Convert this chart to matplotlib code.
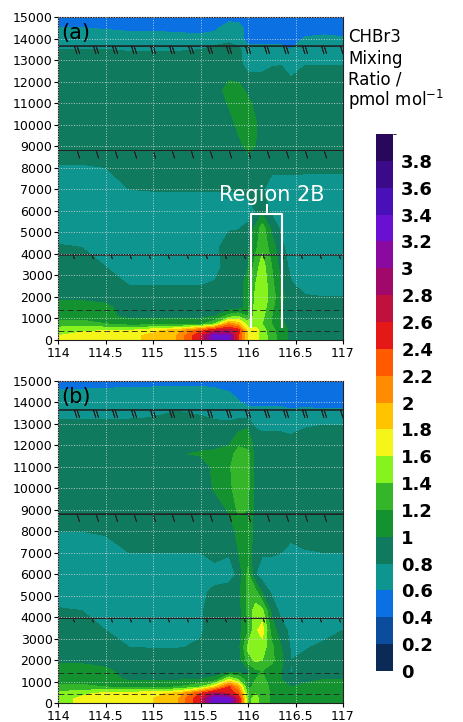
import matplotlib.pyplot as plt
import numpy as np
from matplotlib.colors import ListedColormap, BoundaryNorm

# grid nodes (longitude, height in m)
lon = [114.0, 114.25, 114.5, 114.75, 115.0, 115.25, 115.5, 115.65, 115.8, 115.9,
       116.0, 116.08, 116.15, 116.25, 116.35, 116.45, 116.6, 116.8, 117.0]
height = [0, 200, 450, 750, 1100, 1500, 2000, 2600, 3400, 4300, 5200, 6000, 7000,
          8000, 9000, 10000, 11000, 11600, 12200, 12800, 13400, 14000, 14500, 15000]

# CHBr3 mixing ratio, panel (a), one row per height
chbr3_a = [
    [1.6, 1.7, 1.75, 1.75, 1.85, 2.0, 2.6, 3.3, 3.2, 2.4, 1.75, 1.7, 1.5, 1.3, 1.1, 0.95, 0.9, 0.9, 0.9],
    [1.6, 1.7, 1.75, 1.75, 1.85, 2.0, 2.6, 3.3, 3.2, 2.4, 1.75, 1.7, 1.5, 1.3, 1.1, 0.95, 0.9, 0.9, 0.9],
    [1.5, 1.55, 1.6, 1.6, 1.75, 1.9, 2.3, 2.6, 2.7, 2.5, 1.7, 1.7, 1.5, 1.25, 1.1, 0.95, 0.9, 0.9, 0.9],
    [1.3, 1.3, 1.2, 1.1, 1.1, 1.1, 1.15, 1.4, 2.1, 1.9, 1.5, 1.5, 1.4, 1.2, 1.05, 0.9, 0.9, 0.9, 0.9],
    [1.1, 1.1, 1.05, 0.95, 0.95, 0.95, 0.95, 1.0, 1.3, 1.4, 1.2, 1.5, 1.45, 1.2, 1.0, 0.9, 0.9, 0.9, 0.9],
    [1.1, 1.1, 1.05, 0.9, 0.9, 0.9, 0.9, 0.9, 0.9, 0.9, 1.1, 1.5, 1.5, 1.25, 1.0, 0.9, 0.9, 0.9, 0.9],
    [0.95, 0.95, 0.93, 0.88, 0.88, 0.88, 0.88, 0.88, 0.88, 0.9, 1.1, 1.45, 1.55, 1.3, 1.05, 0.88, 0.82, 0.8, 0.8],
    [0.9, 0.9, 0.9, 0.79, 0.79, 0.79, 0.79, 0.82, 0.88, 0.9, 1.1, 1.4, 1.55, 1.25, 1.0, 0.82, 0.72, 0.72, 0.72],
    [0.9, 0.85, 0.8, 0.72, 0.7, 0.7, 0.7, 0.72, 0.9, 0.9, 1.0, 1.3, 1.5, 1.2, 0.92, 0.75, 0.7, 0.7, 0.7],
    [0.82, 0.8, 0.7, 0.7, 0.7, 0.7, 0.7, 0.75, 0.9, 0.9, 0.95, 1.15, 1.35, 1.1, 0.85, 0.7, 0.7, 0.7, 0.7],
    [0.7, 0.7, 0.7, 0.7, 0.7, 0.7, 0.7, 0.7, 0.78, 0.79, 0.85, 1.05, 1.3, 0.95, 0.75, 0.7, 0.7, 0.7, 0.7],
    [0.7, 0.7, 0.7, 0.7, 0.7, 0.7, 0.7, 0.7, 0.7, 0.7, 0.7, 0.8, 0.92, 0.75, 0.7, 0.7, 0.7, 0.7, 0.7],
    [0.7, 0.7, 0.72, 0.8, 0.81, 0.81, 0.81, 0.81, 0.81, 0.82, 0.88, 0.85, 0.82, 0.7, 0.7, 0.7, 0.7, 0.7, 0.7],
    [0.78, 0.78, 0.8, 0.88, 0.9, 0.9, 0.9, 0.9, 0.9, 0.9, 0.9, 0.9, 0.9, 0.85, 0.85, 0.85, 0.84, 0.84, 0.84],
    [0.9, 0.9, 0.9, 0.9, 0.9, 0.9, 0.9, 0.9, 0.9, 0.95, 1.05, 1.0, 0.9, 0.9, 0.9, 0.9, 0.9, 0.9, 0.9],
    [0.9, 0.9, 0.9, 0.9, 0.9, 0.9, 0.9, 0.9, 0.92, 1.05, 1.1, 1.02, 0.9, 0.9, 0.9, 0.9, 0.9, 0.9, 0.9],
    [0.9, 0.9, 0.9, 0.9, 0.9, 0.9, 0.9, 0.9, 1.02, 1.1, 1.05, 0.95, 0.9, 0.9, 0.9, 0.9, 0.9, 0.9, 0.9],
    [0.9, 0.9, 0.9, 0.9, 0.9, 0.9, 0.9, 0.9, 1.08, 1.08, 0.95, 0.9, 0.9, 0.9, 0.9, 0.9, 0.9, 0.9, 0.9],
    [0.9, 0.9, 0.9, 0.9, 0.9, 0.9, 0.9, 0.9, 0.97, 0.95, 0.85, 0.85, 0.85, 0.88, 0.9, 0.8, 0.9, 0.9, 0.9],
    [0.9, 0.9, 0.9, 0.9, 0.9, 0.9, 0.9, 0.9, 0.9, 0.85, 0.72, 0.7, 0.72, 0.78, 0.79, 0.7, 0.79, 0.79, 0.79],
    [0.82, 0.82, 0.82, 0.8, 0.8, 0.8, 0.82, 0.88, 0.9, 0.85, 0.7, 0.7, 0.7, 0.7, 0.7, 0.62, 0.7, 0.7, 0.7],
    [0.7, 0.7, 0.7, 0.7, 0.7, 0.7, 0.68, 0.7, 0.75, 0.72, 0.5, 0.5, 0.5, 0.5, 0.5, 0.5, 0.62, 0.65, 0.62],
    [0.6, 0.6, 0.58, 0.55, 0.55, 0.52, 0.5, 0.55, 0.72, 0.7, 0.5, 0.5, 0.5, 0.5, 0.5, 0.5, 0.5, 0.5, 0.5],
    [0.5, 0.5, 0.5, 0.5, 0.5, 0.5, 0.5, 0.5, 0.5, 0.5, 0.5, 0.5, 0.5, 0.5, 0.5, 0.5, 0.5, 0.5, 0.5],
]

# panel (b)
chbr3_b = [
    [1.5, 1.65, 1.72, 1.75, 1.8, 1.95, 2.6, 3.4, 3.3, 2.6, 1.35, 1.45, 1.35, 1.15, 1.05, 1.0, 1.05, 1.1, 1.1],
    [1.5, 1.65, 1.72, 1.75, 1.8, 1.95, 2.6, 3.4, 3.3, 2.6, 1.35, 1.45, 1.35, 1.15, 1.05, 1.0, 1.05, 1.1, 1.1],
    [1.45, 1.55, 1.65, 1.7, 1.75, 1.85, 2.4, 2.8, 2.6, 2.3, 1.3, 1.4, 1.35, 1.15, 1.05, 1.0, 1.05, 1.1, 1.1],
    [1.25, 1.25, 1.2, 1.15, 1.15, 1.2, 1.4, 1.8, 2.4, 2.0, 1.15, 1.25, 1.3, 1.15, 1.05, 1.0, 1.05, 1.05, 1.05],
    [1.1, 1.1, 1.05, 0.98, 0.98, 0.98, 1.0, 1.05, 1.6, 1.4, 1.05, 1.2, 1.25, 1.1, 1.0, 0.85, 0.95, 1.0, 1.0],
    [1.1, 1.1, 1.05, 0.9, 0.9, 0.9, 0.9, 0.9, 0.9, 0.9, 0.95, 1.15, 1.2, 1.1, 1.0, 0.78, 0.9, 0.95, 0.95],
    [0.95, 0.95, 0.9, 0.9, 0.9, 0.9, 0.9, 0.9, 0.9, 0.9, 1.3, 1.45, 1.4, 1.25, 1.05, 0.8, 0.85, 0.9, 0.9],
    [0.9, 0.9, 0.85, 0.8, 0.79, 0.79, 0.82, 0.88, 0.9, 0.92, 1.45, 1.5, 1.5, 1.25, 1.0, 0.78, 0.78, 0.85, 0.88],
    [0.9, 0.88, 0.8, 0.72, 0.7, 0.7, 0.78, 0.88, 0.9, 0.92, 1.2, 1.55, 1.7, 1.1, 0.88, 0.75, 0.72, 0.72, 0.8],
    [0.82, 0.8, 0.72, 0.7, 0.7, 0.7, 0.78, 0.88, 0.9, 0.9, 1.25, 1.5, 1.45, 0.95, 0.72, 0.7, 0.7, 0.7, 0.7],
    [0.7, 0.7, 0.7, 0.7, 0.7, 0.7, 0.75, 0.85, 0.9, 0.95, 1.25, 1.25, 0.95, 0.75, 0.7, 0.7, 0.7, 0.7, 0.7],
    [0.7, 0.7, 0.7, 0.7, 0.7, 0.7, 0.7, 0.7, 0.7, 0.85, 1.25, 0.8, 0.7, 0.7, 0.7, 0.7, 0.7, 0.7, 0.7],
    [0.7, 0.7, 0.72, 0.8, 0.8, 0.8, 0.8, 0.88, 0.82, 1.0, 1.1, 0.88, 0.82, 0.82, 0.8, 0.72, 0.78, 0.8, 0.8],
    [0.8, 0.8, 0.82, 0.9, 0.9, 0.9, 0.9, 0.9, 0.92, 1.05, 1.15, 0.9, 0.9, 0.9, 0.9, 0.88, 0.9, 0.9, 0.9],
    [0.9, 0.9, 0.9, 0.9, 0.9, 0.9, 0.9, 0.9, 1.02, 1.25, 1.2, 0.9, 0.9, 0.9, 0.9, 0.9, 0.9, 0.9, 0.9],
    [0.9, 0.9, 0.9, 0.9, 0.9, 0.9, 0.9, 1.02, 1.15, 1.3, 1.25, 0.9, 0.9, 0.9, 0.9, 0.9, 0.9, 0.9, 0.9],
    [0.9, 0.9, 0.9, 0.9, 0.9, 0.9, 0.9, 1.05, 1.18, 1.3, 1.25, 0.9, 0.9, 0.9, 0.9, 0.9, 0.9, 0.9, 0.9],
    [0.9, 0.9, 0.9, 0.9, 0.9, 0.98, 1.02, 1.05, 1.1, 1.3, 1.25, 0.9, 0.9, 0.9, 0.9, 0.9, 0.9, 0.9, 0.9],
    [0.9, 0.9, 0.9, 0.9, 0.9, 0.95, 0.93, 0.9, 0.95, 1.12, 1.1, 0.9, 0.9, 0.9, 0.9, 0.9, 0.9, 0.9, 0.9],
    [0.9, 0.9, 0.9, 0.9, 0.9, 0.9, 0.9, 0.9, 0.9, 0.95, 1.0, 0.8, 0.76, 0.76, 0.76, 0.7, 0.8, 0.85, 0.85],
    [0.75, 0.75, 0.75, 0.76, 0.78, 0.85, 0.8, 0.75, 0.72, 0.75, 0.74, 0.7, 0.7, 0.7, 0.7, 0.7, 0.68, 0.65, 0.65],
    [0.7, 0.7, 0.7, 0.7, 0.7, 0.7, 0.7, 0.7, 0.7, 0.62, 0.55, 0.55, 0.55, 0.55, 0.55, 0.5, 0.55, 0.55, 0.55],
    [0.62, 0.63, 0.65, 0.66, 0.68, 0.7, 0.7, 0.66, 0.6, 0.55, 0.5, 0.5, 0.5, 0.5, 0.5, 0.5, 0.5, 0.5, 0.5],
    [0.5, 0.5, 0.5, 0.5, 0.5, 0.5, 0.5, 0.5, 0.5, 0.5, 0.5, 0.5, 0.5, 0.5, 0.5, 0.5, 0.5, 0.5, 0.5],
]

# colour scale
levels = [0, 0.2, 0.4, 0.6, 0.8, 1.0, 1.2, 1.4, 1.6, 1.8, 2.0,
          2.2, 2.4, 2.6, 2.8, 3.0, 3.2, 3.4, 3.6, 3.8, 4.0]
cbar_labels = ['0', '0.2', '0.4', '0.6', '0.8', '1', '1.2', '1.4', '1.6', '1.8',
               '2', '2.2', '2.4', '2.6', '2.8', '3', '3.2', '3.4', '3.6', '3.8']
colors = ['#0b2a55', '#0c4c9c', '#0b70e2', '#0f958f', '#0f7a5e', '#149230',
          '#35b52a', '#86f21e', '#f5f51a', '#ffc300', '#ff8c00', '#ff5a00',
          '#e51818', '#c0103e', '#a0086a', '#8a0aa0', '#6a10d0', '#4a10b8',
          '#3a0a88', '#28085a']

# wind barbs (easterly component, knots)
barb_lon = [114.0, 114.2, 114.4, 114.6, 114.8, 115.0, 115.2, 115.4,
            115.6, 115.8, 116.0, 116.2, 116.4, 116.6, 116.8]
barb_hgt = [3950, 8800, 13650]
barb_spd = [[5] * 15, [10] * 15, [20] * 15]
calm_hgt = [400, 1400]

xticks = [114, 114.5, 115, 115.5, 116, 116.5, 117]
xlabels = ['114', '114.5', '115', '115.5', '116', '116.5', '117']
yticks = [0, 1000, 2000, 3000, 4000, 5000, 6000, 7000, 8000, 9000,
          10000, 11000, 12000, 13000, 14000, 15000]

cmap = ListedColormap(colors)
norm = BoundaryNorm(levels, cmap.N)
X, Y = np.meshgrid(lon, height)

fig = plt.figure(figsize=(4.63, 7.22), dpi=100)
ax_a = fig.add_axes([0.1253, 0.5291, 0.6156, 0.4474])
ax_b = fig.add_axes([0.1253, 0.0263, 0.6156, 0.446])
cax = fig.add_axes([0.812, 0.0706, 0.0367, 0.7438])

for ax, field, tag in [(ax_a, chbr3_a, '(a)'), (ax_b, chbr3_b, '(b)')]:
    cf = ax.contourf(X, Y, np.array(field), levels=levels, cmap=cmap, norm=norm)
    ax.set_xlim(114, 117)
    ax.set_ylim(0, 15000)
    ax.set_xticks(xticks)
    ax.set_xticklabels(xlabels)
    ax.set_yticks(yticks)
    ax.tick_params(labelsize=9, length=3, pad=1)
    ax.tick_params(axis='x', pad=2)
    ax.grid(color='#e0e0e0', linestyle=':', linewidth=0.7, alpha=0.8)
    ax.set_axisbelow(False)
    for s in ax.spines.values():
        s.set_linewidth(0.8)
        s.set_color('#222222')

    # calm levels: plain dashed shafts
    ax.hlines(calm_hgt, 114, 117, colors='#222222', linewidth=0.6,
              linestyles=(0, (7, 4)))
    bx, by = np.meshgrid(barb_lon, barb_hgt)
    spd = np.array(barb_spd)
    ax.barbs(bx, by, -spd, np.zeros_like(spd), length=5.25, linewidth=0.6,
             color='#222222', pivot='tip',
             sizes=dict(height=0.4, spacing=0.14, width=0.25))
    ax.text(114.03, 14250, tag, fontsize=15, va='center', ha='left')

# Region 2B marker
ax_a.plot([116.03, 116.03, 116.36, 116.36], [620, 5850, 5850, 620],
          color='white', linewidth=1.5)
ax_a.plot([116.195, 116.195], [5850, 6250], color='white', linewidth=1.5)
ax_a.text(116.25, 6750, 'Region 2B', color='white', fontsize=15,
          ha='center', va='center')

cb = fig.colorbar(cf, cax=cax, ticks=levels[:-1])
cb.ax.set_yticklabels(cbar_labels)
cb.outline.set_visible(False)
cax.tick_params(length=0, pad=6, labelsize=13)
for t in cax.get_yticklabels():
    t.set_fontweight('bold')

# colour bar title
title_lines = ['CHBr3', 'Mixing', 'Ratio /', 'pmol mol$^{-1}$']
for i, line in enumerate(title_lines):
    fig.text(0.7516, 1 - (42 + 21.5 * i) / 722, line, fontsize=12,
             va='baseline', ha='left')

fig.savefig('out.png', dpi=100)
